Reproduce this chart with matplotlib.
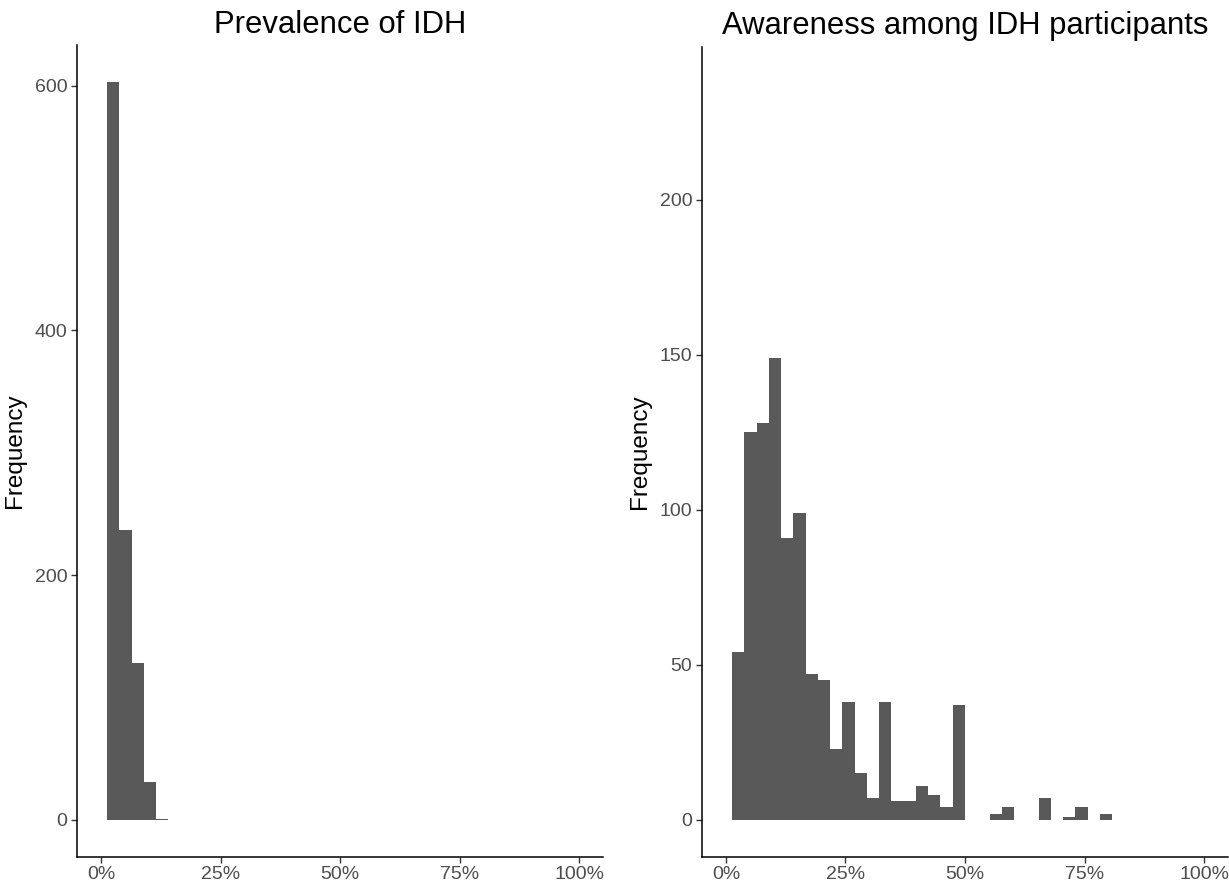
import matplotlib
matplotlib.use("Agg")
import matplotlib.pyplot as plt
import numpy as np

plt.rcParams['font.family'] = ['Liberation Sans', 'DejaVu Sans']

# histogram bins: 40 bins over [0, 1], width 1/39, centred on k/39
bin_width = 100 / 39

prev_bins = [1, 2, 3, 4, 5]
prev_counts = [603, 237, 128, 31, 1]

aware_bins = [1, 2, 3, 4, 5, 6, 7, 8, 9, 10, 11, 12, 13, 14, 15, 16, 17, 18, 19,
              22, 23, 26, 28, 29, 31]
aware_counts = [54, 125, 128, 149, 91, 99, 47, 45, 23, 38, 15, 7, 38, 6, 6, 11, 8, 4, 37,
                2, 4, 7, 1, 4, 2]

titles = ["Prevalence of IDH", "Awareness among IDH participants"]
x_ticks = [0, 25, 50, 75, 100]
x_labels = ["0%", "25%", "50%", "75%", "100%"]
y_top = [603, 237.5]

bar_col = "#595959"
tick_col = "#4D4D4D"

fig = plt.figure(figsize=(12.29, 8.86), dpi=100)
ax1 = fig.add_axes([0.0627, 0.0331, 0.428, 0.916])
ax2 = fig.add_axes([0.5712, 0.0331, 0.428, 0.914])

panels = [(ax1, prev_bins, prev_counts, [0, 200, 400, 600]),
          (ax2, aware_bins, aware_counts, [0, 50, 100, 150, 200])]

for i, (ax, bins, counts, yt) in enumerate(panels):
    centers = np.array(bins) * bin_width
    ax.bar(centers, counts, width=bin_width, color=bar_col, linewidth=0, align='center')
    ax.set_xlim(-5, 105)
    ax.set_ylim(-0.05 * y_top[i], 1.05 * y_top[i])
    ax.set_xticks(x_ticks)
    ax.set_xticklabels(x_labels)
    ax.set_yticks(yt)
    ax.tick_params(axis='both', colors='#333333', labelcolor=tick_col, labelsize=14,
                   length=4, width=1.0, pad=3)
    for s in ['top', 'right']:
        ax.spines[s].set_visible(False)
    for s in ['left', 'bottom']:
        ax.spines[s].set_linewidth(1.1)
        ax.spines[s].set_color('black')
    ax.set_title(titles[i], fontsize=22.3, pad=9)
    ax.set_ylabel("Frequency", fontsize=17.5, labelpad=6)

fig.savefig("out.png", dpi=100)
